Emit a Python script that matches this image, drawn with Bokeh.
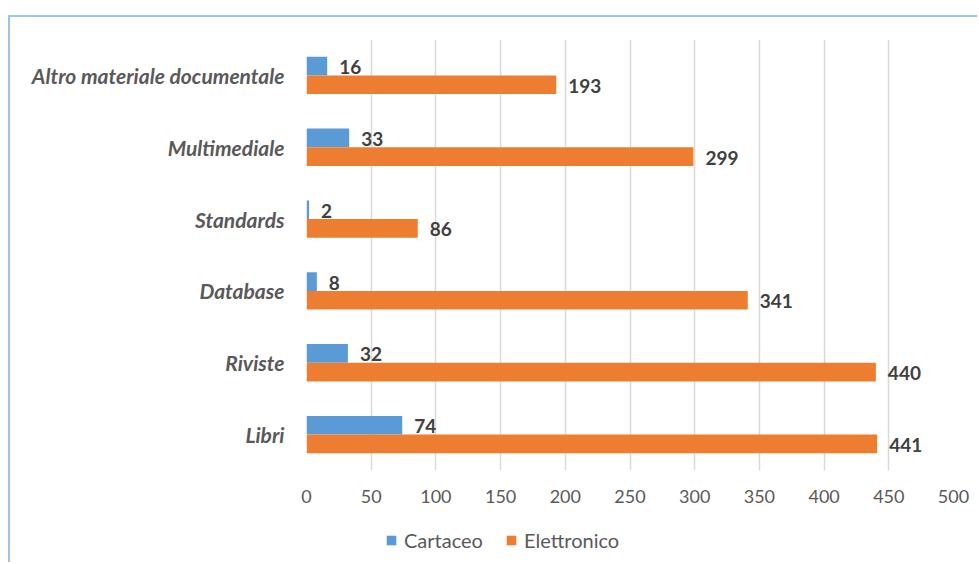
from bokeh.plotting import figure
from bokeh.models import (ColumnDataSource, FactorRange, Range1d, Legend, LegendItem,
                          SingleIntervalTicker)
from bokeh.layouts import column
from bokeh.transform import dodge
from bokeh.core.properties import value
from bokeh.embed import file_html
from bokeh.resources import INLINE

categories = ["Libri", "Riviste", "Database", "Standards", "Multimediale",
              "Altro materiale documentale"]
cartaceo = [74, 32, 8, 2, 33, 16]
elettronico = [441, 440, 341, 86, 299, 193]
series_names = ["Cartaceo", "Elettronico"]

FONT = "Lato"
BLUE = "#5B9BD5"
ORANGE = "#ED7D31"

src = ColumnDataSource(dict(
    cat=categories,
    cart=cartaceo,
    elet=elettronico,
    cart_lbl=[str(v) for v in cartaceo],
    elet_lbl=[str(v) for v in elettronico],
))

p = figure(width=967, height=493, output_backend="svg", toolbar_location=None,
           y_range=FactorRange(*categories), x_range=Range1d(0, 500),
           min_border_left=296, min_border_right=24, min_border_top=22,
           min_border_bottom=40)

r1 = p.hbar(y=dodge("cat", 0.13, range=p.y_range), right="cart", left=0, height=0.26,
            source=src, fill_color=BLUE, line_color=None)
r2 = p.hbar(y=dodge("cat", -0.13, range=p.y_range), right="elet", left=0, height=0.26,
            source=src, fill_color=ORANGE, line_color=None)

common = dict(text_font=value(FONT), text_font_style="bold", text_font_size="19px",
              text_color="#404040", text_baseline="middle", text_align="left",
              x_offset=12, y_offset=1)
p.text(x="cart", y=dodge("cat", 0.13, range=p.y_range), text="cart_lbl", source=src, **common)
p.text(x="elet", y=dodge("cat", -0.13, range=p.y_range), text="elet_lbl", source=src, **common)

p.xaxis.ticker = SingleIntervalTicker(interval=50)
p.xaxis.axis_line_color = None
p.xaxis.major_tick_line_color = None
p.xaxis.minor_tick_line_color = None
p.xaxis.major_label_text_font = FONT
p.xaxis.major_label_text_font_size = "18px"
p.xaxis.major_label_text_color = "#595959"
p.xaxis.major_label_standoff = 13

p.yaxis.axis_line_color = None
p.yaxis.major_tick_line_color = None
p.yaxis.minor_tick_line_color = None
p.yaxis.major_label_text_font = FONT
p.yaxis.major_label_text_font_size = "21px"
p.yaxis.major_label_text_font_style = "bold italic"
p.yaxis.major_label_text_color = "#595959"
p.yaxis.major_label_standoff = 16

p.ygrid.grid_line_color = None
p.xgrid.grid_line_color = "#D9D9D9"
p.xgrid.grid_line_width = 1.5
p.outline_line_color = None
p.background_fill_color = "white"

# legend strip below the chart (same series, zero-height and out of view; only the legend shows)
lf = figure(width=967, height=52, output_backend="svg", toolbar_location=None,
            x_range=Range1d(-2000, -1000), y_range=FactorRange(*categories),
            min_border_left=0, min_border_right=0, min_border_top=0, min_border_bottom=0)
lf.axis.visible = False
lf.grid.visible = False
lf.outline_line_color = None
l1 = lf.hbar(y="cat", right="cart", left=0, height=0, source=src,
             fill_color=BLUE, line_color=None)
l2 = lf.hbar(y="cat", right="elet", left=0, height=0, source=src,
             fill_color=ORANGE, line_color=None)

legend = Legend(items=[LegendItem(label=series_names[0], renderers=[l1]),
                       LegendItem(label=series_names[1], renderers=[l2])],
                orientation="horizontal", location=(79, 10),
                border_line_alpha=0, background_fill_alpha=0, padding=0, margin=0,
                glyph_width=12, glyph_height=12, label_standoff=7, spacing=22,
                label_text_font=FONT, label_text_font_size="20px",
                label_text_color="#595959")
lf.add_layout(legend, "center")

layout = column(p, lf, spacing=0)
layout.styles = {"margin-left": "8px", "margin-top": "15px",
                 "border-left": "2px solid #9DC3E6", "border-top": "2px solid #9DC3E6"}

open("out.html", "w").write(file_html(layout, INLINE))
